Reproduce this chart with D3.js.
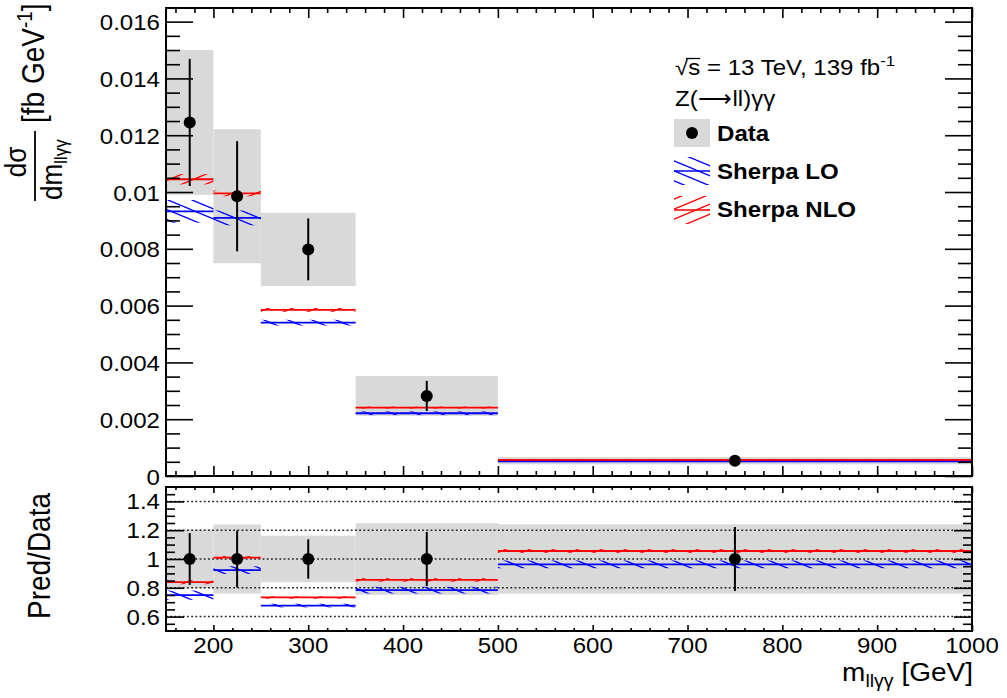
<!DOCTYPE html>
<html><head><meta charset="utf-8">
<script src="https://cdn.jsdelivr.net/npm/d3@7"></script>
<style>body{margin:0;background:#fff}svg{font-family:"Liberation Sans",Arial,sans-serif}</style>
</head><body>
<svg id="c" width="1007" height="698"></svg>
<script>
// ---- data ----
const binEdges = [150, 200, 250, 350, 500, 1000];
const dataVals = [0.01245, 0.00985, 0.00798, 0.00282, 0.00054];
const statErr  = [0.00224, 0.00194, 0.00109, 0.00053, 0.00012];
const totErr   = [0.00255, 0.00236, 0.00129, 0.00070, 0.00013];
const loVals   = [0.00932, 0.00909, 0.00540, 0.00221, 0.00052];
const loErr    = [0.00040, 0.00026, 0.00010, 0.000065, 0.0000145];
const nloVals  = [0.01045, 0.00995, 0.00585, 0.00241, 0.00057];
const nloErr   = [0.00018, 0.00010, 0.00007, 0.000034, 0.000007];
const xTickVals   = [200, 300, 400, 500, 600, 700, 800, 900, 1000];
const xTickLabels = ["200", "300", "400", "500", "600", "700", "800", "900", "1000"];
const yTopTickVals   = [0, 0.002, 0.004, 0.006, 0.008, 0.010, 0.012, 0.014, 0.016];
const yTopTickLabels = ["0", "0.002", "0.004", "0.006", "0.008", "0.01", "0.012", "0.014", "0.016"];
const yRatTickVals   = [0.6, 0.8, 1.0, 1.2, 1.4];
const yRatTickLabels = ["0.6", "0.8", "1", "1.2", "1.4"];
const legendLabels = ["Data", "Sherpa LO", "Sherpa NLO"];

// ---- layout ----
const L = 166, R = 972, topT = 8, topB = 476, ratT = 487, ratB = 631;
const SX = 1.12;          // horizontal text stretch of the original canvas
const BLUE = "#0000ff", RED = "#ff0000", GREY = "#d9d9d9";

const svg = d3.select("#c");
const x  = d3.scaleLinear([150, 1000], [L, R]);
const yT = d3.scaleLinear([0, 0.01648], [topB, topT]);
const yR = d3.scaleLinear([0.5, 1.5], [ratB, ratT]);

// hatch patterns
const defs = svg.append("defs");
function hatch(id, color, down) {
  const W = 24, H = 10;
  const p = defs.append("pattern").attr("id", id).attr("patternUnits", "userSpaceOnUse")
    .attr("width", W).attr("height", H);
  const d = down
    ? `M0,0L${W},${H}M${-W},0L0,${H}M${W},${-H}L${2*W},0M0,${-H}L${W},0M0,${H}L${W},${2*H}`
    : `M0,${H}L${W},0M${-W},${H}L0,0M${W},${H}L${2*W},0M0,0L${W},${-H}M0,${2*H}L${W},${H}`;
  p.append("path").attr("d", d).attr("stroke", color).attr("stroke-width", 1.3).attr("fill", "none");
}
hatch("hLO", BLUE, true);
hatch("hNLO", RED, false);

function txt(parent, xp, yp, s, size, anchor, weight) {
  return parent.append("text")
    .attr("transform", `translate(${xp},${yp}) scale(${SX},1)`)
    .attr("text-anchor", anchor || "start")
    .attr("font-size", size).attr("font-weight", weight || "normal")
    .attr("fill", "#000").text(s);
}

const bins = dataVals.map((v, i) => ({
  lo: binEdges[i], hi: binEdges[i + 1], v,
  stat: statErr[i], tot: totErr[i],
  lov: loVals[i], loe: loErr[i], nlov: nloVals[i], nloe: nloErr[i]
}));

// ===== top panel =====
const gT = svg.append("g");
gT.selectAll("rect.tot").data(bins).join("rect")
  .attr("x", d => x(d.lo)).attr("width", d => x(d.hi) - x(d.lo))
  .attr("y", d => yT(d.v + d.tot)).attr("height", d => yT(d.v - d.tot) - yT(d.v + d.tot))
  .attr("fill", GREY);

function bands(g, yS, valKey, errKey, pat, color, scaleFn) {
  g.selectAll(null).data(bins).join("rect")
    .attr("x", d => x(d.lo)).attr("width", d => x(d.hi) - x(d.lo))
    .attr("y", d => yS(scaleFn(d, d[valKey] + d[errKey])))
    .attr("height", d => Math.max(0.5, yS(scaleFn(d, d[valKey] - d[errKey])) - yS(scaleFn(d, d[valKey] + d[errKey]))))
    .attr("fill", `url(#${pat})`);
  g.selectAll(null).data(bins).join("line")
    .attr("x1", d => x(d.lo)).attr("x2", d => x(d.hi))
    .attr("y1", d => yS(scaleFn(d, d[valKey]))).attr("y2", d => yS(scaleFn(d, d[valKey])))
    .attr("stroke", color).attr("stroke-width", 1.8);
}
const ident = (d, v) => v;
bands(gT, yT, "lov", "loe", "hLO", BLUE, ident);
bands(gT, yT, "nlov", "nloe", "hNLO", RED, ident);

gT.selectAll("line.err").data(bins).join("line")
  .attr("x1", d => x((d.lo + d.hi) / 2)).attr("x2", d => x((d.lo + d.hi) / 2))
  .attr("y1", d => yT(d.v + d.stat)).attr("y2", d => yT(d.v - d.stat))
  .attr("stroke", "#000").attr("stroke-width", 2);
gT.selectAll("circle").data(bins).join("circle")
  .attr("cx", d => x((d.lo + d.hi) / 2)).attr("cy", d => yT(d.v)).attr("r", 6).attr("fill", "#000");

// ===== ratio panel =====
const gR = svg.append("g");
const rat = (d, v) => v / d.v;
gR.selectAll("rect.tot").data(bins).join("rect")
  .attr("x", d => x(d.lo)).attr("width", d => x(d.hi) - x(d.lo))
  .attr("y", d => yR(1 + d.tot / d.v)).attr("height", d => yR(1 - d.tot / d.v) - yR(1 + d.tot / d.v))
  .attr("fill", GREY);
// dotted grid
gR.selectAll("line.grid").data(yRatTickVals).join("line")
  .attr("x1", L).attr("x2", R).attr("y1", d => yR(d)).attr("y2", d => yR(d))
  .attr("stroke", "#222").attr("stroke-width", 1.5).attr("stroke-dasharray", "1.8,2.4");
bands(gR, yR, "lov", "loe", "hLO", BLUE, rat);
bands(gR, yR, "nlov", "nloe", "hNLO", RED, rat);
gR.selectAll("line.err").data(bins).join("line")
  .attr("x1", d => x((d.lo + d.hi) / 2)).attr("x2", d => x((d.lo + d.hi) / 2))
  .attr("y1", d => yR(1 + d.stat / d.v)).attr("y2", d => yR(1 - d.stat / d.v))
  .attr("stroke", "#000").attr("stroke-width", 2);
gR.selectAll("circle").data(bins).join("circle")
  .attr("cx", d => x((d.lo + d.hi) / 2)).attr("cy", yR(1)).attr("r", 6).attr("fill", "#000");

// ===== axes / ticks =====
function strip(g) { g.select(".domain").remove(); g.selectAll("line").attr("stroke", "#000").attr("stroke-width", 1.6); }
function ticks(axisFn, scale, vals, size, tx, ty) {
  svg.append("g").attr("transform", `translate(${tx},${ty})`)
    .call(axisFn(scale).tickValues(vals).tickSize(size).tickFormat(""))
    .call(strip);
}
const xMinor = d3.range(160, 1000, 20).filter(v => v % 100 !== 0);
const yTopMinor = d3.range(0, 0.0165, 0.0005).filter(v => Math.abs(v / 0.002 - Math.round(v / 0.002)) > 1e-6);
const yRatMinor = d3.range(0.55, 1.5, 0.05).filter(v => Math.abs(v / 0.2 - Math.round(v / 0.2)) > 1e-6);

// top panel
ticks(d3.axisRight, yT, yTopTickVals, 27, L, 0);
ticks(d3.axisRight, yT, yTopMinor, 14, L, 0);
ticks(d3.axisLeft, yT, yTopTickVals, 27, R, 0);
ticks(d3.axisLeft, yT, yTopMinor, 14, R, 0);
ticks(d3.axisTop, x, xTickVals, 10, 0, topB);
ticks(d3.axisTop, x, xMinor, 5, 0, topB);
ticks(d3.axisBottom, x, xTickVals, 10, 0, topT);
ticks(d3.axisBottom, x, xMinor, 5, 0, topT);
// ratio panel
ticks(d3.axisRight, yR, yRatTickVals, 18, L, 0);
ticks(d3.axisRight, yR, yRatMinor, 9, L, 0);
ticks(d3.axisLeft, yR, yRatTickVals, 18, R, 0);
ticks(d3.axisLeft, yR, yRatMinor, 9, R, 0);
ticks(d3.axisTop, x, xTickVals, 6, 0, ratB);
ticks(d3.axisTop, x, xMinor, 3, 0, ratB);
ticks(d3.axisBottom, x, xTickVals, 6, 0, ratT);
ticks(d3.axisBottom, x, xMinor, 3, 0, ratT);

// frames
[[topT, topB], [ratT, ratB]].forEach(([a, b]) =>
  svg.append("rect").attr("x", L).attr("y", a).attr("width", R - L).attr("height", b - a)
    .attr("fill", "none").attr("stroke", "#000").attr("stroke-width", 2));

// tick labels
yTopTickVals.forEach((v, i) => txt(svg, 160, yT(v) + 8.5, yTopTickLabels[i], 21.5, "end"));
yRatTickVals.forEach((v, i) => txt(svg, 160, yR(v) + 8, yRatTickLabels[i], 21.5, "end"));
xTickVals.forEach((v, i) => txt(svg, x(v), 653, xTickLabels[i], 21.5, "middle"));

// x title
{
  const t = svg.append("text").attr("transform", `translate(973,681) scale(${SX},1)`)
    .attr("text-anchor", "end").attr("font-size", 25);
  t.append("tspan").text("m");
  t.append("tspan").attr("font-size", 17.5).attr("dy", 6).text("llγγ");
  t.append("tspan").attr("dy", -6).text(" [GeV]");
}
// y title (top)
{
  const g = svg.append("g").attr("transform", `translate(35,201) scale(${SX},1) rotate(-90)`);
  g.append("line").attr("x1", 0).attr("x2", 70).attr("y1", 0).attr("y2", 0).attr("stroke", "#000").attr("stroke-width", 1.6);
  g.append("text").attr("x", 39).attr("y", -8).attr("text-anchor", "middle").attr("font-size", 26).text("dσ");
  const den = g.append("text").attr("x", 1).attr("y", 24).attr("font-size", 26);
  den.append("tspan").text("dm");
  den.append("tspan").attr("font-size", 17).attr("dy", 5).text("llγγ");
  const u = g.append("text").attr("x", 78).attr("y", 8).attr("font-size", 28);
  u.append("tspan").text("[fb GeV");
  u.append("tspan").attr("font-size", 19).attr("dy", -11).text("-1");
  u.append("tspan").attr("dy", 11).text("]");
}
// y title (ratio)
svg.append("g").attr("transform", `translate(50,556) scale(${SX},1) rotate(-90)`)
  .append("text").attr("text-anchor", "middle").attr("font-size", 28).text("Pred/Data");

// ===== legend =====
{
  const t1 = svg.append("text").attr("transform", `translate(675,75) scale(${SX},1)`).attr("font-size", 21.5);
  t1.append("tspan").text("√s = 13 TeV, 139 fb");
  t1.append("tspan").attr("font-size", 15).attr("dy", -9).text("-1");
  // overbar of the square root
  svg.append("line").attr("x1", 686).attr("x2", 700).attr("y1", 58.5).attr("y2", 58.5)
    .attr("stroke", "#000").attr("stroke-width", 1.3);
  txt(svg, 675, 106, "Z(⟶ll)γγ", 21.5);

  svg.append("rect").attr("x", 674).attr("y", 119).attr("width", 36).attr("height", 28).attr("fill", GREY);
  svg.append("circle").attr("cx", 692).attr("cy", 133).attr("r", 6).attr("fill", "#000");
  svg.append("rect").attr("x", 674).attr("y", 157).attr("width", 36).attr("height", 28).attr("fill", "url(#hLO)");
  svg.append("line").attr("x1", 674).attr("x2", 710).attr("y1", 171).attr("y2", 171).attr("stroke", BLUE).attr("stroke-width", 1.5);
  svg.append("rect").attr("x", 674).attr("y", 196).attr("width", 36).attr("height", 28).attr("fill", "url(#hNLO)");
  svg.append("line").attr("x1", 674).attr("x2", 710).attr("y1", 210).attr("y2", 210).attr("stroke", RED).attr("stroke-width", 1.5);
  [141, 179, 217].forEach((yy, i) => txt(svg, 717, yy, legendLabels[i], 21.5, "start", "bold"));
}
</script>
</body></html>
